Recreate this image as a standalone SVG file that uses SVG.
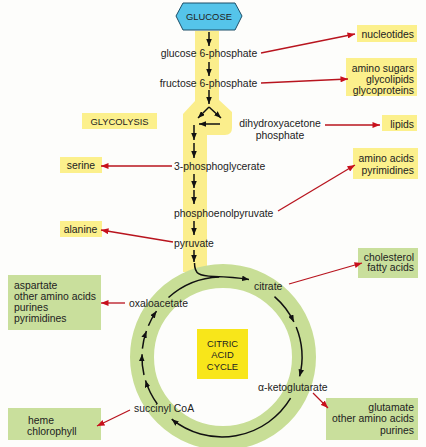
<svg xmlns="http://www.w3.org/2000/svg" width="426" height="447" viewBox="0 0 426 447">
<defs>
<marker id="bh" viewBox="0 0 10 8" refX="10" refY="4" markerWidth="7" markerHeight="5.6" orient="auto" markerUnits="userSpaceOnUse"><path d="M0,0 L10,4 L0,8 z" fill="#111"/></marker>
<marker id="rh" viewBox="0 0 10 8" refX="10" refY="4" markerWidth="8" markerHeight="6" orient="auto" markerUnits="userSpaceOnUse"><path d="M0,0 L10,4 L0,8 z" fill="#c8101c"/></marker>
</defs>
<style>
text{font-family:"Liberation Sans",Arial,sans-serif;font-size:10.4px;fill:#222}
.cap{font-size:9.4px}
.ybox{fill:#fcf08c}
.gbox{fill:#c9df9c}
.blk{fill:none;stroke:#111;stroke-width:1.5;marker-end:url(#bh)}
.blkn{fill:none;stroke:#111;stroke-width:1.5}
.red{fill:none;stroke:#b8141e;stroke-width:1.3;marker-end:url(#rh)}
.e{text-anchor:end}
.m{text-anchor:middle}
</style>
<rect width="426" height="447" fill="#fdfdfb"/>
<g id="band">
<path d="M195,31 H219 V100 L232,112 V128 Q232,135 225,135 H207 V272 H183 V114 L195,101 Z" fill="#fbee8c"/>
</g>
<g id="ring">
<circle cx="223" cy="357" r="81" fill="none" stroke="#c8de96" stroke-width="24"/>
</g>
<g id="glucose">
<polygon points="176,16 183,3 235,3 242,16 235,30 183,30" fill="#55c4ea" stroke="#1d4f68" stroke-width="1"/>
<text x="209" y="20" class="cap m">GLUCOSE</text>
</g>
<g id="glycolysis">
<rect x="82" y="113" width="75" height="16" class="ybox"/>
<text x="119.5" y="124.5" class="cap m">GLYCOLYSIS</text>
</g>
<g id="citric">
<rect x="197" y="329" width="51" height="50" fill="#f8e61a"/>
<text x="222.5" y="346.5" class="cap m">CITRIC</text>
<text x="222.5" y="358" class="cap m">ACID</text>
<text x="222.5" y="369.5" class="cap m">CYCLE</text>
</g>
<g id="g6p"><text x="209" y="56.5" class="m">glucose 6-phosphate</text></g>
<g id="f6p"><text x="208.5" y="86.5" class="m">fructose 6-phosphate</text></g>
<g id="dhap"><text x="280" y="127" class="m">dihydroxyacetone</text><text x="280" y="138.5" class="m">phosphate</text></g>
<g id="pg3"><text x="174" y="169.5">3-phosphoglycerate</text></g>
<g id="pep"><text x="174" y="216.5">phosphoenolpyruvate</text></g>
<g id="pyr"><text x="174" y="246.5">pyruvate</text></g>
<g id="citrate"><text x="254" y="289.5">citrate</text></g>
<g id="oaa"><text x="129" y="306.5">oxaloacetate</text></g>
<g id="akg"><text x="258" y="390.5">α-ketoglutarate</text></g>
<g id="succ"><text x="134" y="411.5">succinyl CoA</text></g>
<g id="nucleotides">
<rect x="357" y="25" width="60" height="17" class="ybox"/>
<text x="414" y="37.5" class="e">nucleotides</text>
</g>
<g id="aminosugars">
<rect x="346" y="58" width="71" height="38" class="ybox"/>
<text x="414" y="72" class="e">amino sugars</text>
<text x="414" y="83" class="e">glycolipids</text>
<text x="414" y="93.5" class="e">glycoproteins</text>
</g>
<g id="lipids">
<rect x="382" y="115" width="35" height="16" class="ybox"/>
<text x="414" y="127.5" class="e">lipids</text>
</g>
<g id="aminoacids">
<rect x="353" y="148" width="65" height="31" class="ybox"/>
<text x="414" y="161.5" class="e">amino acids</text>
<text x="414" y="173.5" class="e">pyrimidines</text>
</g>
<g id="serine">
<rect x="60" y="157" width="42" height="16" class="ybox"/>
<text x="81" y="168.5" class="m">serine</text>
</g>
<g id="alanine">
<rect x="60" y="221" width="42" height="16" class="ybox"/>
<text x="80.5" y="232.5" class="m">alanine</text>
</g>
<g id="cholesterol">
<rect x="358" y="248" width="60" height="30" class="gbox"/>
<text x="414" y="260.5" class="e">cholesterol</text>
<text x="414" y="271" class="e">fatty acids</text>
</g>
<g id="glutamate">
<rect x="326" y="398" width="92" height="42" class="gbox"/>
<text x="414" y="410.5" class="e">glutamate</text>
<text x="414" y="422" class="e">other amino acids</text>
<text x="414" y="433.5" class="e">purines</text>
</g>
<g id="aspartate">
<rect x="8" y="275" width="93" height="55" class="gbox"/>
<text x="14" y="288.5">aspartate</text>
<text x="14" y="299.5">other amino acids</text>
<text x="14" y="311">purines</text>
<text x="14" y="322">pyrimidines</text>
</g>
<g id="heme">
<rect x="8" y="408" width="93" height="32" class="gbox"/>
<text x="28" y="423.5">heme</text>
<text x="27" y="434.5">chlorophyll</text>
</g>
<g id="connectors">
<path class="blk" d="M209,32 V46"/>
<path class="blk" d="M209,62 V76"/>
<path class="blk" d="M209,90 V104"/>
<path class="blk" d="M209,107 L198,118"/>
<path class="blk" d="M209,107 L221,118"/>
<path class="blk" d="M220,124 H199"/>
<path class="blk" d="M194,125 V140"/>
<path class="blk" d="M194,143 V158"/>
<path class="blk" d="M194,174 V188"/>
<path class="blk" d="M194,190 V204"/>
<path class="blk" d="M194,221 V235"/>
<path class="blk" d="M194,250 V262"/>
<path class="blk" d="M194.5,263 C194.5,274 199,276 214,276.5 Q234,277 249,279.5"/>
<path class="blkn" d="M168.5,297.5 A80,80 0 0 1 219.2,277"/>
<path class="blk" d="M274.5,296.6 A80,80 0 0 1 293.9,321.9"/>
<path class="blk" d="M296.2,327 A80,80 0 0 1 299.6,376.4"/>
<path class="blk" d="M290.6,398.2 A80,80 0 0 1 171.7,419.2"/>
<path class="blk" d="M157.3,404 A80,80 0 0 1 145.5,380.4"/>
<path class="blk" d="M144,375 A80,80 0 0 1 142.05,354.2"/>
<path class="blk" d="M142.4,348.6 A80,80 0 0 1 146.4,331"/>
<path class="blk" d="M148.4,325.7 A80,80 0 0 1 156.5,311.1"/>
<path class="red" d="M261,53 L355,34"/>
<path class="red" d="M261,83 L348,79"/>
<path class="red" d="M325,125 L380,125"/>
<path class="red" d="M172,166 L101,166"/>
<path class="red" d="M173,242 L101,230"/>
<path class="red" d="M278,211 L355,165"/>
<path class="red" d="M289,284 L362,263"/>
<path class="red" d="M313,393 L328,408"/>
<path class="red" d="M125,303 L101,303"/>
<path class="red" d="M130,410 L97,426"/>
</g>
</svg>
